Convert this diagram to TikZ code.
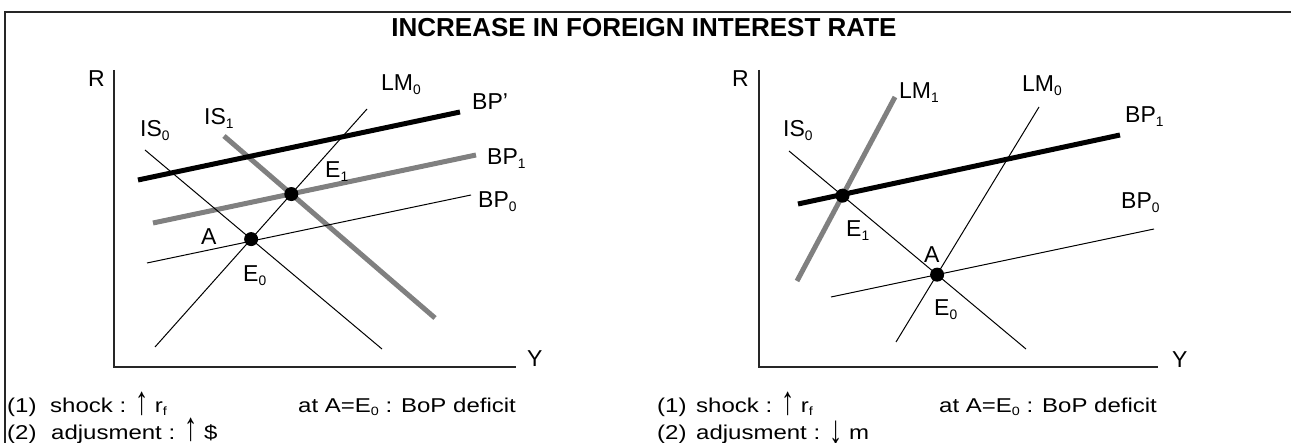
\documentclass[tikz,border=0pt]{standalone}
\usepackage{fontspec}
\usepackage{graphicx}
\setmainfont{Liberation Sans}
\newfontfamily\widefont{Liberation Sans}[FakeStretch=1.2]
\newcommand\lsub[1]{\raisebox{-0.15em}{\scalebox{0.6}{#1}}}
\newcommand\uparr{\raisebox{-0.08em}{\scalebox{1.1}[2.0]{↑}}}
\newcommand\downarr{\raisebox{-0.25em}{\scalebox{1.1}[2.0]{↓}}}
\tikzset{
  curvethin/.style={line width=1pt, black},
  curveblack/.style={line width=5pt, black},
  curvegray/.style={line width=5pt, color=graycurve},
  axisline/.style={line width=1.5pt, black!85},
  framelinestyle/.style={line width=2pt, black!85},
  eqdot/.style={circle, fill=black, inner sep=0pt, minimum size=14pt},
  lbl/.style={font=\fontsize{23}{27}\selectfont, inner sep=0pt, anchor=base west},
  note/.style={font=\widefont\fontsize{20}{24}\selectfont, inner sep=0pt, anchor=base west},
  titletext/.style={font=\fontsize{26}{30}\selectfont\bfseries, inner sep=0pt, anchor=base}
}
\definecolor{graycurve}{RGB}{128,128,128}
\begin{document}
\begin{tikzpicture}[x=1pt,y=-1pt]
\useasboundingbox (0,0) rectangle (1291,443);
% frame
\coordinate (fbl) at (5,450);
\coordinate (ftl) at (5,12);
\coordinate (ftr) at (1296,12);
\draw[framelinestyle] (fbl) -- (ftl) -- (ftr);
\node[titletext] (title) at (644,37) {INCREASE IN FOREIGN INTEREST RATE};

% ===== left panel =====
\coordinate (LyT) at (114,70);
\coordinate (LO) at (114,367);
\coordinate (LxR) at (516,367);
\draw[axisline] (LyT) -- (LO) -- (LxR);
\node[lbl] (LR) at (88,87) {R};
\node[lbl] (LY) at (527,367) {Y};

\coordinate (LM0La) at (155,347); \coordinate (LM0Lb) at (367,109);
\coordinate (IS0La) at (145,150); \coordinate (IS0Lb) at (382,349);
\coordinate (IS1La) at (224,136); \coordinate (IS1Lb) at (435,318);
\coordinate (BPpLa) at (138,180); \coordinate (BPpLb) at (460,112);
\coordinate (BP1La) at (153,223); \coordinate (BP1Lb) at (476,155);
\coordinate (BP0La) at (147,263); \coordinate (BP0Lb) at (471,195);

\draw[curvegray] (IS1La) -- (IS1Lb);
\draw[curvegray] (BP1La) -- (BP1Lb);
\draw[curveblack] (BPpLa) -- (BPpLb);
\draw[curvethin] (LM0La) -- (LM0Lb);
\draw[curvethin] (IS0La) -- (IS0Lb);
\draw[curvethin] (BP0La) -- (BP0Lb);

\node[eqdot] (E0L) at (intersection of LM0La--LM0Lb and IS0La--IS0Lb) {};
\node[eqdot] (E1L) at (intersection of LM0La--LM0Lb and IS1La--IS1Lb) {};

\node[lbl] (lLM0L) at (381,91) {LM\lsub{0}};
\node[lbl] (lIS0L) at (140,137) {IS\lsub{0}};
\node[lbl] (lIS1L) at (204,125) {IS\lsub{1}};
\node[lbl] (lBPpL) at (472,110) {BP'};
\node[lbl] (lBP1L) at (487,165) {BP\lsub{1}};
\node[lbl] (lBP0L) at (478,208) {BP\lsub{0}};
\node[lbl] (lAL) at (201,245) {A};
\node[lbl] (lE0L) at (243,282) {E\lsub{0}};
\node[lbl] (lE1L) at (325,178) {E\lsub{1}};

\node[note] (n1L) at (7,413) {(1)};
\node[note] (n1Lb) at (50,413) {shock : \uparr\ r\lsub{f}};
\node[note] (n1Lc) at (298,413) {at A=E\lsub{0} : BoP deficit};
\node[note] (n2L) at (7,439) {(2)};
\node[note] (n2Lb) at (51,439) {adjusment : \uparr\ \$};

% ===== right panel =====
\coordinate (RyT) at (759,70);
\coordinate (RO) at (759,367);
\coordinate (RxR) at (1158,367);
\draw[axisline] (RyT) -- (RO) -- (RxR);
\node[lbl] (RR) at (732,87) {R};
\node[lbl] (RY) at (1172,368) {Y};

\coordinate (LM1Ra) at (797,281); \coordinate (LM1Rb) at (895,97);
\coordinate (LM0Ra) at (896,342); \coordinate (LM0Rb) at (1039,107);
\coordinate (IS0Ra) at (789,151); \coordinate (IS0Rb) at (1026,349);
\coordinate (BP1Ra) at (798,204); \coordinate (BP1Rb) at (1120,135);
\coordinate (BP0Ra) at (831,297); \coordinate (BP0Rb) at (1154,229);

\draw[curvegray] (LM1Ra) -- (LM1Rb);
\draw[curveblack] (BP1Ra) -- (BP1Rb);
\draw[curvethin] (LM0Ra) -- (LM0Rb);
\draw[curvethin] (IS0Ra) -- (IS0Rb);
\draw[curvethin] (BP0Ra) -- (BP0Rb);

\node[eqdot] (E0R) at (intersection of LM0Ra--LM0Rb and IS0Ra--IS0Rb) {};
\node[eqdot] (E1R) at (intersection of LM1Ra--LM1Rb and IS0Ra--IS0Rb) {};

\node[lbl] (lLM1R) at (899,99) {LM\lsub{1}};
\node[lbl] (lLM0R) at (1022,92) {LM\lsub{0}};
\node[lbl] (lIS0R) at (783,137) {IS\lsub{0}};
\node[lbl] (lBP1R) at (1125,123) {BP\lsub{1}};
\node[lbl] (lBP0R) at (1121,209) {BP\lsub{0}};
\node[lbl] (lE1R) at (846,237) {E\lsub{1}};
\node[lbl] (lAR) at (924,263) {A};
\node[lbl] (lE0R) at (934,316) {E\lsub{0}};

\node[note] (n1R) at (657,413) {(1)};
\node[note] (n1Rb) at (696,413) {shock : \uparr\ r\lsub{f}};
\node[note] (n1Rc) at (939,413) {at A=E\lsub{0} : BoP deficit};
\node[note] (n2R) at (657,439) {(2)};
\node[note] (n2Rb) at (696,439) {adjusment : \downarr\ m};
\end{tikzpicture}
\end{document}
